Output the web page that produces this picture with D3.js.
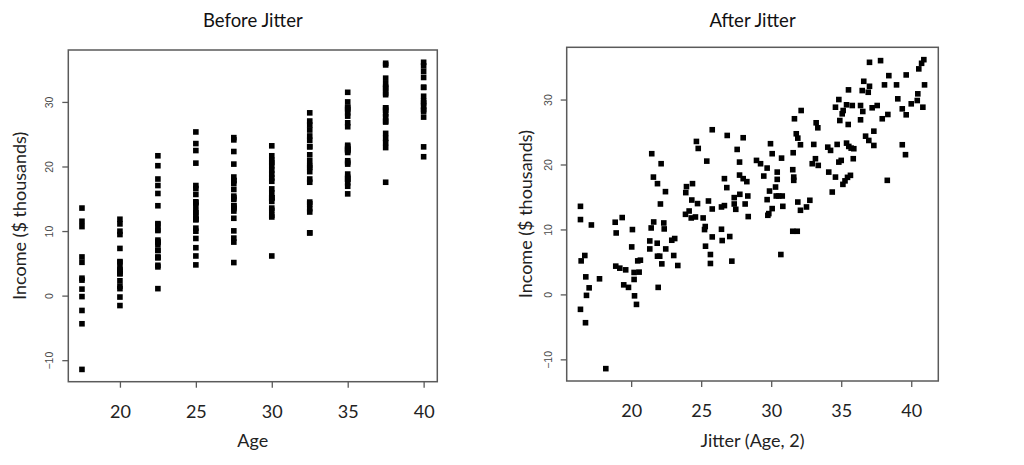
<!DOCTYPE html>
<html><head><meta charset="utf-8">
<script src="https://cdn.jsdelivr.net/npm/d3@7"></script>
<style>
html,body{margin:0;padding:0;background:#fff;}
svg{display:block;}
</style></head>
<body>
<script>
// ---------- DATA ----------
// Age category of each observation (left panel x)
const age = [
 17.5,17.5,17.5,17.5,17.5,17.5,17.5,17.5,17.5,17.5,17.5,17.5,
 20,20,20,20,20,20,20,20,20,20,20,20,20,20,20,20,20,
 22.5,22.5,22.5,22.5,22.5,22.5,22.5,22.5,22.5,22.5,22.5,22.5,22.5,22.5,22.5,22.5,22.5,22.5,22.5,22.5,22.5,22.5,
 25,25,25,25,25,25,25,25,25,25,25,25,25,25,25,25,25,25,25,25,25,25,
 27.5,27.5,27.5,27.5,27.5,27.5,27.5,27.5,27.5,27.5,27.5,27.5,27.5,27.5,27.5,27.5,27.5,27.5,27.5,27.5,27.5,27.5,
 30,30,30,30,30,30,30,30,30,30,30,30,30,30,30,30,30,30,30,30,
 32.5,32.5,32.5,32.5,32.5,32.5,32.5,32.5,32.5,32.5,32.5,32.5,32.5,32.5,32.5,32.5,32.5,32.5,32.5,32.5,32.5,
 35,35,35,35,35,35,35,35,35,35,35,35,35,35,35,35,35,35,35,35,35,35,35,35,35,35,
 37.5,37.5,37.5,37.5,37.5,37.5,37.5,37.5,37.5,37.5,37.5,37.5,37.5,37.5,37.5,37.5,37.5,37.5,37.5,37.5,
 40,40,40,40,40,40,40,40,40,40,40,40,40,40,40
];
// Jittered age (right panel x)
const jitterAge = [
 16.38,16.38,17.16,16.69,16.43,16.76,17.74,17.00,16.81,16.38,16.74,18.19,
 18.86,19.36,18.93,20.09,20.04,18.90,19.19,19.61,20.47,20.66,20.21,20.57,19.47,19.81,20.21,20.24,20.38,
 21.47,22.14,21.59,21.88,22.45,22.09,21.61,22.33,21.43,22.36,21.33,21.86,21.33,22.47,22.90,23.11,21.88,22.04,23.04,22.19,23.33,21.93,
 25.79,24.66,24.79,25.40,23.95,24.38,23.90,24.33,24.74,25.52,25.79,23.88,24.14,24.29,24.59,25.14,25.29,25.24,25.79,25.31,25.66,25.66,
 26.86,28.00,27.57,27.74,26.66,26.83,27.74,28.00,28.26,26.45,26.66,27.36,27.76,28.33,27.36,27.47,28.14,26.45,26.50,27.04,28.36,27.19,
 29.95,30.07,30.74,28.95,29.24,29.71,30.43,29.47,30.43,29.88,30.31,30.36,30.54,30.79,29.71,30.83,30.07,29.83,29.76,30.69,
 32.14,31.66,33.21,33.33,31.79,31.90,32.09,33.04,31.57,31.54,31.61,31.61,32.93,33.16,33.36,31.90,32.09,32.52,32.76,31.54,31.86,
 35.52,34.83,34.59,35.38,35.79,35.14,35.07,34.90,35.50,34.04,34.24,34.71,35.38,35.54,35.71,35.90,35.00,34.83,35.86,34.11,34.59,35.66,35.45,35.27,35.12,34.36,
 37.02,37.81,38.40,36.61,37.02,36.93,36.50,38.09,38.33,37.93,37.21,37.57,36.38,36.54,36.38,37.33,36.74,36.97,37.33,38.29,
 40.90,40.74,40.54,39.64,38.95,40.95,40.47,39.04,40.43,40.00,40.83,39.36,39.64,39.36,39.59
];
// Income ($ thousands)
const income = [
 13.56,11.52,10.69,5.99,5.16,2.70,2.40,1.01,-0.15,-2.30,-4.36,-11.43,
 11.11,11.83,9.46,9.98,7.31,4.35,4.04,3.78,5.16,5.27,3.38,3.43,1.47,1.08,2.30,-0.22,-1.54,
 21.66,20.12,18.06,17.05,15.82,13.92,11.15,11.00,10.23,10.08,8.23,7.88,7.00,7.00,8.34,8.60,5.88,5.88,5.99,4.70,4.45,1.08,
 25.35,23.55,22.47,20.52,16.59,17.05,15.67,14.53,13.98,14.38,13.15,12.33,12.84,11.77,11.92,11.77,10.45,9.98,8.85,7.42,6.14,4.76,
 24.47,24.12,22.32,20.37,17.82,16.44,18.37,17.82,17.36,13.46,13.67,14.90,15.41,15.15,13.92,13.10,13.92,10.03,8.29,8.91,11.98,5.12,
 23.20,21.66,20.98,20.63,20.12,19.45,18.83,18.22,17.71,15.91,16.53,15.15,15.15,15.15,14.59,13.56,13.21,12.44,12.18,6.14,
 28.31,27.04,26.42,25.65,24.73,24.06,23.04,23.09,21.81,19.20,18.06,17.56,20.12,20.89,19.86,14.22,12.95,13.46,14.49,9.72,9.72,
 31.49,30.00,28.82,29.19,29.08,28.31,27.80,26.77,26.16,22.67,22.17,23.09,23.29,22.78,22.52,22.43,20.63,20.37,20.89,18.83,18.06,18.33,18.02,17.48,16.94,15.76,
 35.73,35.99,33.68,32.81,32.04,31.12,31.38,32.26,27.70,27.04,28.73,29.08,29.08,28.16,26.88,25.13,24.36,23.70,22.93,17.56,
 36.14,35.58,34.72,33.79,32.26,32.26,30.88,30.11,29.85,29.34,28.82,28.57,27.65,23.04,21.51
];
const xTicks = [20, 25, 30, 35, 40];
const yTicks = [-10, 0, 10, 20, 30];
const titles = ["Before Jitter", "After Jitter"];
const xTitles = ["Age", "Jitter (Age, 2)"];
const yTitle = "Income ($ thousands)";

// ---------- LAYOUT ----------
const W = 1024, H = 465;
const svg = d3.select("body").append("svg").attr("width", W).attr("height", H);
svg.append("rect").attr("width", W).attr("height", H).attr("fill", "#fff");

const panels = [
  {x0: 68.3, y0: 50, x1: 437.3, y1: 381.7, xs: age, ytl: 19, ylab: 49},
  {x0: 566.7, y0: 47.3, x1: 938.3, y1: 381, xs: jitterAge, ytl: 18.5, ylab: 42}
];

function pad(ext) { const d = (ext[1] - ext[0]) * 0.04; return [ext[0] - d, ext[1] + d]; }
const yDom = pad(d3.extent(income));
const frameCol = "#5a5a5a";
const bigFont = "Lato, 'Open Sans', 'Liberation Sans', sans-serif";

panels.forEach((p, i) => {
  const x = d3.scaleLinear().domain(pad(d3.extent(p.xs))).range([p.x0, p.x1]);
  const y = d3.scaleLinear().domain(yDom).range([p.y1, p.y0]);
  const g = svg.append("g");

  // points
  const pts = d3.range(income.length).map(k => ({x: p.xs[k], y: income[k]}));
  const s = 5.6;
  g.append("g").selectAll("rect").data(pts).join("rect")
    .attr("x", d => x(d.x) - s / 2).attr("y", d => y(d.y) - s / 2)
    .attr("width", s).attr("height", s).attr("fill", "#000");

  // frame
  g.append("rect").attr("x", p.x0).attr("y", p.y0)
    .attr("width", p.x1 - p.x0).attr("height", p.y1 - p.y0)
    .attr("fill", "none").attr("stroke", frameCol).attr("stroke-width", 1.5);

  // y axis
  const ya = g.append("g").attr("transform", `translate(${p.x0},0)`)
    .call(d3.axisLeft(y).tickValues(yTicks).tickSize(6).tickFormat(d3.format("d")));
  ya.select(".domain").remove();
  ya.selectAll("line").attr("stroke", frameCol).attr("stroke-width", 1.3);
  ya.selectAll("text").attr("x", null).attr("dy", null)
    .attr("transform", `translate(${-p.ytl},0) rotate(-90)`)
    .attr("text-anchor", "middle").attr("dominant-baseline", "central")
    .attr("fill", "#4a4a4a").style("font-size", "10.5px")
    .style("font-family", "'Liberation Sans', Arial, sans-serif");

  // x axis
  const xa = g.append("g").attr("transform", `translate(0,${p.y1})`)
    .call(d3.axisBottom(x).tickValues(xTicks).tickSize(6).tickFormat(d3.format("d")));
  xa.select(".domain").remove();
  xa.selectAll("line").attr("stroke", frameCol).attr("stroke-width", 1.3);
  xa.selectAll("text").attr("y", 29).attr("dy", null)
    .attr("dominant-baseline", "central")
    .attr("fill", "#222").style("font-size", "18px").style("font-family", bigFont);

  const cx = (p.x0 + p.x1) / 2, cy = (p.y0 + p.y1) / 2;
  // title
  svg.append("text").attr("x", cx).attr("y", 20).attr("text-anchor", "middle")
    .attr("dominant-baseline", "central").attr("fill", "#111")
    .style("font-size", "18.5px").style("font-family", bigFont).text(titles[i]);
  // x title
  svg.append("text").attr("x", cx).attr("y", 440).attr("text-anchor", "middle")
    .attr("dominant-baseline", "central").attr("fill", "#222")
    .style("font-size", "18px").style("font-family", bigFont).text(xTitles[i]);
  // y title
  svg.append("text").attr("transform", `translate(${p.x0 - p.ylab},${cy}) rotate(-90)`)
    .attr("text-anchor", "middle").attr("dominant-baseline", "central").attr("fill", "#222")
    .style("font-size", "18px").style("font-family", bigFont).text(yTitle);
});
</script>
</body></html>
